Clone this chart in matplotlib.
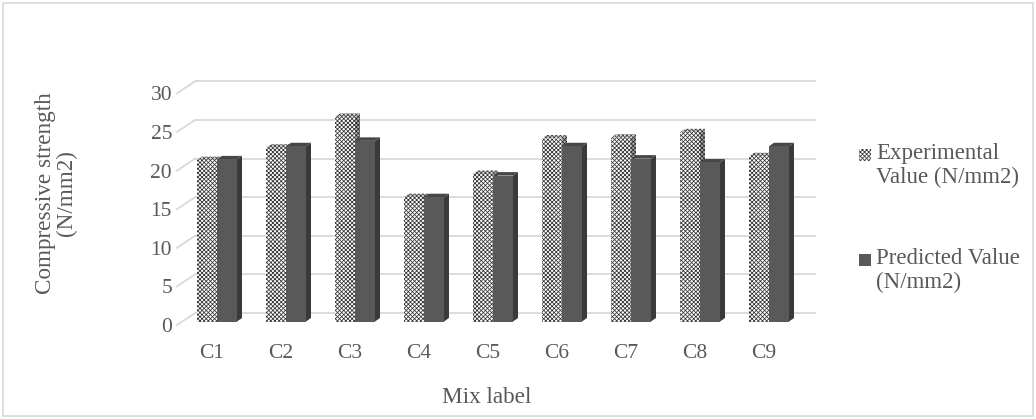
import matplotlib
matplotlib.use('Agg')
import matplotlib.pyplot as plt
from matplotlib.patches import Polygon, Rectangle

categories = ['C1', 'C2', 'C3', 'C4', 'C5', 'C6', 'C7', 'C8', 'C9']
experimental = [20.9, 22.5, 26.5, 16.1, 19.1, 23.7, 23.8, 24.5, 21.4]
predicted = [21.0, 22.7, 23.4, 16.1, 18.9, 22.7, 21.1, 20.6, 22.7]
y_ticks = [0, 5, 10, 15, 20, 25, 30]
series_labels = ['Experimental\nValue (N/mm2)', 'Predicted Value\n(N/mm2)']
x_title = 'Mix label'
y_title = 'Compressive strength\n(N/mm2)'

plt.rcParams['font.family'] = ['Liberation Serif', 'DejaVu Serif']
TXT = '#595959'
GRID = '#d9d9d9'

W, H = 1036, 419
fig = plt.figure(figsize=(W / 100, H / 100), dpi=100)
fx0, fx1, fy0, fy1 = 177, 798, 325, 93.4
ax = fig.add_axes([fx0 / W, (H - fy0) / H, (fx1 - fx0) / W, (fy0 - fy1) / H])
ax.set_xlim(-0.5, len(categories) - 0.5)
ax.set_ylim(0, 30)
for s in ax.spines.values():
    s.set_visible(False)

px_x = (fx1 - fx0) / len(categories)
px_y = (fy0 - fy1) / 30.0


def px(dx, dy):
    return dx / px_x, dy / px_y


# back wall gridlines and side-wall slants
bx, by = px(18, 12)
n = len(categories)
for t in y_ticks:
    ax.plot([-0.5 + bx, n - 0.5 + bx], [t + by, t + by], color=GRID, lw=1.3,
            clip_on=False, zorder=1, solid_capstyle='butt')
    ax.plot([-0.5, -0.5 + bx], [t, t + by], color=GRID, lw=1.3,
            clip_on=False, zorder=1)

# bars
ox, oy = px(5.5, 3.5)
ddx, ddy = px(5, 3.5)
w = 20 / px_x
HATCH = 'x' * 8
plt.rcParams['hatch.linewidth'] = 0.55


def add_patch(p):
    p.set_clip_on(False)
    ax.add_patch(p)


def bar3d(x0, v, kind, z):
    x1 = x0 + w
    y0 = oy
    y1 = v + oy
    side = [(x1, y0), (x1 + ddx, y0 + ddy), (x1 + ddx, y1 + ddy), (x1, y1)]
    top = [(x0, y1), (x1, y1), (x1 + ddx, y1 + ddy), (x0 + ddx, y1 + ddy)]
    if kind == 'exp':
        add_patch(Polygon(side, facecolor='#a8a8a8', edgecolor='#2a2a2a', hatch=HATCH, lw=0, zorder=z))
        add_patch(Polygon(top, facecolor='#d8d8d8', edgecolor='#3a3a3a', hatch=HATCH, lw=0, zorder=z))
        add_patch(Rectangle((x0, y0), w, v, facecolor='white', edgecolor='#333333', hatch=HATCH, lw=0, zorder=z))
    else:
        add_patch(Polygon(side, facecolor='#3a3a3a', edgecolor='none', lw=0, zorder=z))
        add_patch(Polygon(top, facecolor='#474747', edgecolor='none', lw=0, zorder=z))
        add_patch(Rectangle((x0, y0), w, v, facecolor='#595959', edgecolor='none', lw=0, zorder=z))


for i, (e, p) in enumerate(zip(experimental, predicted)):
    bar3d(i - w + ox, e, 'exp', 3 + 2 * i)
    bar3d(i + ox, p, 'pred', 4 + 2 * i)

# ticks
ax.set_yticks(y_ticks)
ax.set_yticklabels([str(t) for t in y_ticks])
ax.set_xticks(range(n))
ax.set_xticklabels(categories)
ax.tick_params(axis='y', length=0, pad=3.6, labelsize=15.5, labelcolor=TXT)
ax.tick_params(axis='x', length=0, pad=13.5, labelsize=15.5, labelcolor=TXT)

# titles
fig.text(487 / W, 1 - 397 / H, x_title, ha='center', va='center', fontsize=16.7, color=TXT)
fig.text(56 / W, 1 - 193 / H, y_title, ha='center', va='center', rotation=90,
         multialignment='center', fontsize=16.7, color=TXT, linespacing=1.0)

# legend (manual, Excel style: marker beside first line)
leg_y = [155, 260]
for k, (lab, yy) in enumerate(zip(series_labels, leg_y)):
    if k == 0:
        mk = Rectangle((859 / W, 1 - (yy + 6) / H), 12 / W, 12 / H, transform=fig.transFigure,
                       facecolor='white', edgecolor='#333333', hatch=HATCH, lw=0)
    else:
        mk = Rectangle((859 / W, 1 - (yy + 6) / H), 12 / W, 12 / H, transform=fig.transFigure,
                       facecolor='#595959', edgecolor='none', lw=0)
    fig.add_artist(mk)
    fig.text(876 / W, 1 - (yy - 12) / H, lab, ha='left', va='top', fontsize=16.5,
             color=TXT, linespacing=1.15)

# chart border
fig.add_artist(Rectangle((3 / W, 3 / H), (W - 6) / W, (H - 6) / H, transform=fig.transFigure,
                         facecolor='none', edgecolor=GRID, lw=1.2))

fig.savefig('out.png', dpi=100)
